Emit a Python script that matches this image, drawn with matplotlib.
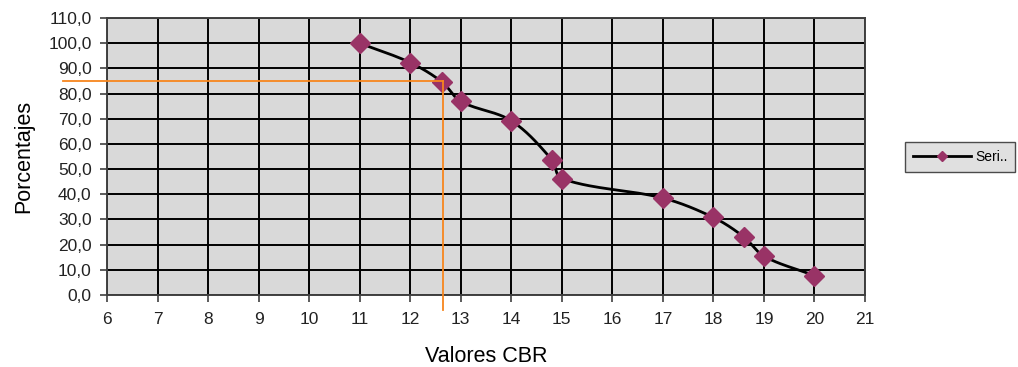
import numpy as np
import matplotlib.pyplot as plt
from matplotlib.ticker import FuncFormatter

plt.rcParams['font.family'] = ['Liberation Sans', 'DejaVu Sans']

cbr = [11, 12, 12.63, 13, 14, 14.8, 15, 17, 18, 18.6, 19, 20]
porcentajes = [100.0, 92.3, 84.6, 76.9, 69.2, 53.8, 46.2, 38.5, 30.8, 23.1, 15.4, 7.7]
cbr_95 = 12.65
pct_95 = 84.8


def smooth(x, y, n=30, sx=50.5, sy=2.52):
    # bezier smoothing (like excel), worked out in pixel-ish units
    P = np.column_stack([np.asarray(x, float) * sx, np.asarray(y, float) * sy])
    T = np.zeros_like(P)
    T[1:-1] = P[2:] - P[:-2]
    T[0] = P[1] - P[0]
    T[-1] = P[-1] - P[-2]
    T /= np.linalg.norm(T, axis=1)[:, None]
    t = np.linspace(0, 1, n)[:, None]
    out = []
    for i in range(len(P) - 1):
        L = np.linalg.norm(P[i + 1] - P[i])
        c1 = P[i] + T[i] * L / 3
        c2 = P[i + 1] - T[i + 1] * L / 3
        out.append((1 - t) ** 3 * P[i] + 3 * (1 - t) ** 2 * t * c1
                   + 3 * (1 - t) * t ** 2 * c2 + t ** 3 * P[i + 1])
    out = np.vstack(out)
    return out[:, 0] / sx, out[:, 1] / sy


fig = plt.figure(figsize=(10.18, 3.67), dpi=100)
ax = fig.add_axes([107 / 1018, 1 - 295 / 367, 758 / 1018, 277 / 367])
ax.set_facecolor('#d9d9d9')

sx, sy = smooth(cbr, porcentajes)
ax.plot(sx, sy, color='black', lw=2, zorder=3)
ax.plot(cbr, porcentajes, ls='none', marker='D', ms=10, color='#993366', zorder=4)
leg_line, = ax.plot([], [], color='black', lw=2, marker='D', ms=5,
                    markerfacecolor='#993366', markeredgecolor='#993366', label='Seri..')

# orange guide lines
ax.plot([5.13, cbr_95], [pct_95, pct_95], color='#f7861e', lw=1.3, clip_on=False, zorder=5)
ax.plot([cbr_95, cbr_95], [pct_95, -6], color='#f7861e', lw=1.3, clip_on=False, zorder=5)

ax.set_xlim(6, 21)
ax.set_ylim(0, 110)
ax.set_xticks(np.arange(6, 22, 1))
ax.set_yticks(np.arange(0, 111, 10))
ax.yaxis.set_major_formatter(FuncFormatter(lambda v, p: '{:.1f}'.format(v).replace('.', ',')))
ax.grid(True, color='black', lw=1.4)
ax.set_axisbelow(True)
ax.tick_params(labelsize=12.5, length=5, width=1.2, color='#404040', labelcolor='#222222')
ax.tick_params(axis='x', pad=7)
ax.tick_params(axis='y', pad=6)
for s in ax.spines.values():
    s.set_color('#404040')
    s.set_linewidth(1.4)

ax.set_xlabel('Valores CBR', fontsize=15.5, labelpad=14)
ax.set_ylabel('Porcentajes', fontsize=15.5, labelpad=10)

leg = fig.legend(handles=[leg_line], loc='center left', bbox_to_anchor=(905 / 1018, 1 - 157 / 367),
                 fontsize=10, frameon=True, fancybox=False, handlelength=4.2,
                 borderpad=0.55, handletextpad=0.3, borderaxespad=0)
leg.get_frame().set_facecolor('#d9d9d9')
leg.get_frame().set_edgecolor('#222222')

fig.savefig('out.png', dpi=100)
